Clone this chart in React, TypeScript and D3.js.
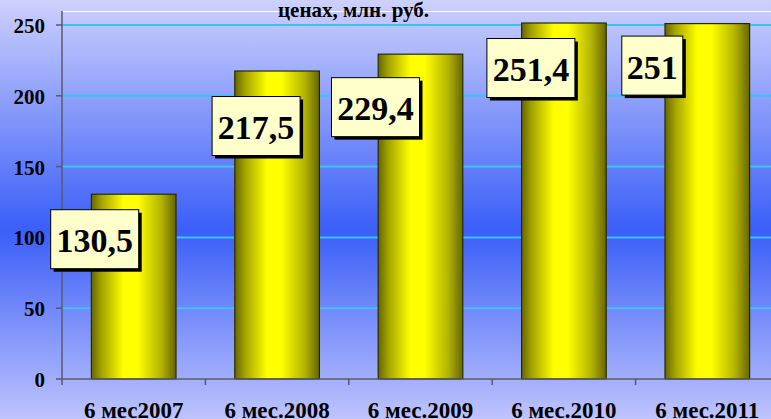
import * as d3 from 'd3'

const categories = ['6 мес2007', '6 мес.2008', '6 мес.2009', '6 мес.2010', '6 мес.2011']
const values = [130.5, 217.5, 229.4, 251.4, 251]
const valueLabels = ['130,5', '217,5', '229,4', '251,4', '251']
const yTicks = [0, 50, 100, 150, 200, 250]
const title = 'ценах, млн. руб.'

// manual label placement (dx from bar centre, dy from bar top), as in the original
const labelShift = [
  [-39, 45],
  [-21, 55],
  [-45, 53],
  [-33, 45],
  [-55, 42],
]

const W = 771
const H = 419
const FONT = "'Liberation Serif'"

export default function App() {
  const x = d3.scaleBand().domain(categories).range([62, 779]).paddingInner(0.41).paddingOuter(0.205)
  const y = d3.scaleLinear().domain([0, 250]).range([379, 25])
  const bounds = d3.range(categories.length + 1).map((i) => 62 + i * (717 / categories.length))
  const txt = { fontFamily: FONT, fontWeight: 700 }

  return (
    <svg width={W} height={H} style={{ position: 'fixed', left: 0, top: 0, display: 'block' }}>
      <defs>
        <linearGradient id="bg" x1="0" y1="0" x2="0" y2="1">
          <stop offset="0" stopColor="#cdd1fd" />
          <stop offset="0.55" stopColor="#3a5ef8" />
          <stop offset="1" stopColor="#bec4fd" />
        </linearGradient>
        <linearGradient id="bar" x1="0" y1="0" x2="1" y2="0">
          <stop offset="0" stopColor="#666600" />
          <stop offset="0.12" stopColor="#a3a300" />
          <stop offset="0.38" stopColor="#ffff00" />
          <stop offset="0.55" stopColor="#ffff00" />
          <stop offset="0.82" stopColor="#b5b500" />
          <stop offset="1" stopColor="#666600" />
        </linearGradient>
      </defs>
      <rect x={0} y={0} width={W} height={H} fill="url(#bg)" />

      {/* plot top border */}
      <line x1={62} x2={W} y1={11.5} y2={11.5} stroke="#ffffff" strokeWidth={1} />

      {/* gridlines */}
      {yTicks.filter((t) => t > 0).map((t) => (
        <line key={t} x1={62} x2={W} y1={y(t)} y2={y(t)} stroke="#38c4f4" strokeWidth={2} />
      ))}

      {/* bars */}
      {categories.map((c, i) => (
        <rect
          key={c}
          x={x(c)}
          y={y(values[i])}
          width={x.bandwidth()}
          height={y(0) - y(values[i])}
          fill="url(#bar)"
          stroke="#2a2a00"
          strokeWidth={1.2}
        />
      ))}

      {/* axes */}
      <line x1={62} x2={62} y1={11} y2={379} stroke="#5a5a6a" strokeWidth={1.5} />
      <line x1={62} x2={W} y1={379} y2={379} stroke="#5a5a6a" strokeWidth={1.5} />
      {yTicks.map((t) => (
        <g key={t}>
          <line x1={56} x2={62} y1={y(t)} y2={y(t)} stroke="#5a5a6a" strokeWidth={1.5} />
          <text x={45} y={y(t) + 8} textAnchor="end" fontSize={21} fill="#000" style={txt}>
            {t}
          </text>
        </g>
      ))}
      {bounds.map((b, i) => (
        <line key={i} x1={b} x2={b} y1={379} y2={385} stroke="#5a5a6a" strokeWidth={1.5} />
      ))}
      {categories.map((c) => (
        <text
          key={c}
          x={(x(c) ?? 0) + x.bandwidth() / 2}
          y={418}
          textAnchor="middle"
          fontSize={23}
          fill="#000"
          style={txt}
        >
          {c}
        </text>
      ))}

      {/* value labels */}
      {categories.map((c, i) => {
        const cx = (x(c) ?? 0) + x.bandwidth() / 2 + labelShift[i][0]
        const cy = y(values[i]) + labelShift[i][1]
        const w = valueLabels[i].length > 3 ? 88 : 61
        const h = 59
        return (
          <g key={c}>
            <rect x={cx - w / 2 + 3} y={cy - h / 2 + 3} width={w} height={h} fill="#000" />
            <rect x={cx - w / 2} y={cy - h / 2} width={w} height={h} fill="#ffffcc" stroke="#000" strokeWidth={1} />
            <text x={cx} y={cy + 13} textAnchor="middle" fontSize={34} fill="#000" style={txt}>
              {valueLabels[i]}
            </text>
          </g>
        )
      })}

      <text x={278} y={17} fontSize={21} fill="#000" style={txt}>
        {title}
      </text>
    </svg>
  )
}
